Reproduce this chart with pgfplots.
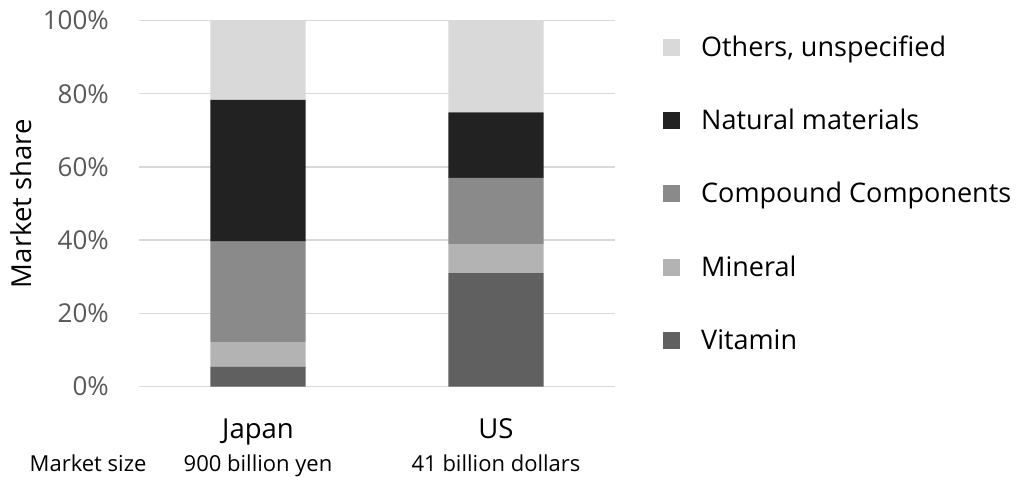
\documentclass[border=0pt]{standalone}
\usepackage{pgfplots}
\pgfplotsset{compat=1.18}
\usepackage{fontspec}
\setmainfont{Open Sans}

\definecolor{cOthers}{HTML}{D9D9D9}
\definecolor{cNatural}{HTML}{222222}
\definecolor{cCompound}{HTML}{8A8A8A}
\definecolor{cMineral}{HTML}{B3B3B3}
\definecolor{cVitamin}{HTML}{606060}
\definecolor{gridc}{HTML}{D9D9D9}
\definecolor{tickc}{HTML}{595959}

\pgfplotsset{
  sq legend/.style={legend image code/.code={\fill[##1] (0bp,-8.5bp) rectangle (17bp,8.5bp);}},
}
\tikzset{sizelabel/.style={anchor=base, font=\fontsize{22bp}{26bp}\selectfont, yshift=-85bp}}

\begin{document}
\begin{tikzpicture}
\useasboundingbox (0,0) rectangle (1016bp,477bp);
\begin{axis}[
  at={(139bp,90.3bp)}, anchor=south west,
  scale only axis, width=476bp, height=366.2bp,
  ybar stacked, bar width=0.4,
  xmin=-0.5, xmax=1.5, ymin=0, ymax=100,
  xtick={0,1}, xticklabels={Japan,US},
  ytick={0,20,40,60,80,100},
  yticklabels={0\%,20\%,40\%,60\%,80\%,100\%},
  axis line style={draw=none},
  major tick length=0pt,
  ymajorgrids, grid style={color=gridc, line width=1.5bp},
  tick label style={font=\fontsize{26bp}{30bp}\selectfont},
  yticklabel style={anchor=east, inner sep=0pt, xshift=-30bp, text=tickc},
  xticklabel style={anchor=base, inner sep=0pt, yshift=-51.5bp, text=black,
    font=\fontsize{27.5bp}{31bp}\selectfont},
  ylabel={Market share},
  ylabel style={at={(rel axis cs:-0.2479,0.5)}, anchor=center,
    font=\fontsize{27.5bp}{31bp}\selectfont, text=black},
  clip=false,
  legend cell align=left,
  reverse legend,
  legend style={draw=none, fill=none, at={(1.1008,0.9604)}, anchor=north west,
    inner xsep=0pt, inner ysep=0pt, row sep=49.3bp,
    font=\fontsize{27bp}{31bp}\selectfont,
    nodes={inner sep=0pt, text height=21bp, text depth=3bp},
    /tikz/every odd column/.append style={column sep=21bp}},
]
% Japan, US (share in percent)
\addplot[fill=cVitamin, draw=none, sq legend]  coordinates {(0,5.5)  (1,31.0)};
\addplot[fill=cMineral, draw=none, sq legend]  coordinates {(0,6.7)  (1,7.9)};
\addplot[fill=cCompound, draw=none, sq legend] coordinates {(0,27.4) (1,18.1)};
\addplot[fill=cNatural, draw=none, sq legend]  coordinates {(0,38.7) (1,17.9)};
\addplot[fill=cOthers, draw=none, sq legend]   coordinates {(0,21.7) (1,25.1)};
\legend{Vitamin, Mineral, Compound Components, Natural materials, {Others, unspecified}}

\node[sizelabel] at (axis cs:-0.714,0) {Market size};
\node[sizelabel] at (axis cs:0,0) {900 billion yen};
\node[sizelabel] at (axis cs:1,0) {41 billion dollars};
\end{axis}
\end{tikzpicture}
\end{document}
